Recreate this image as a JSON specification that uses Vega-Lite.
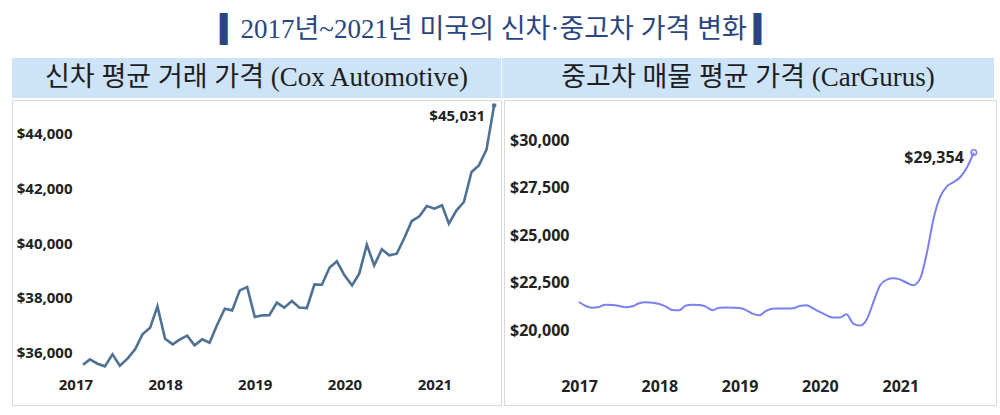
{
  "$schema": "https://vega.github.io/schema/vega-lite/v6.json",
  "padding": {"left": 11, "right": 7, "top": 16, "bottom": 11},
  "background": "white",
  "title": {
    "text": "▍2017년~2021년 미국의 신차·중고차 가격 변화 ▍",
    "font": "Liberation Serif, DejaVu Sans, Noto Sans CJK KR",
    "fontSize": 27,
    "fontWeight": "normal",
    "color": "#2a4680",
    "anchor": "middle",
    "offset": 14,
    "dx": -7
  },
  "config": {"view": {"stroke": null}},
  "datasets": {
    "newcar": [
      {"date": "2017-02-01", "price": 35562},
      {"date": "2017-03-01", "price": 35756},
      {"date": "2017-04-01", "price": 35598},
      {"date": "2017-05-01", "price": 35501},
      {"date": "2017-06-01", "price": 35939},
      {"date": "2017-07-01", "price": 35525},
      {"date": "2017-08-01", "price": 35781},
      {"date": "2017-09-01", "price": 36122},
      {"date": "2017-10-01", "price": 36670},
      {"date": "2017-11-01", "price": 36913},
      {"date": "2017-12-01", "price": 37693},
      {"date": "2018-01-01", "price": 36511},
      {"date": "2018-02-01", "price": 36304},
      {"date": "2018-03-01", "price": 36475},
      {"date": "2018-04-01", "price": 36621},
      {"date": "2018-05-01", "price": 36268},
      {"date": "2018-06-01", "price": 36487},
      {"date": "2018-07-01", "price": 36365},
      {"date": "2018-08-01", "price": 37023},
      {"date": "2018-09-01", "price": 37607},
      {"date": "2018-10-01", "price": 37546},
      {"date": "2018-11-01", "price": 38277},
      {"date": "2018-12-01", "price": 38399},
      {"date": "2019-01-01", "price": 37303},
      {"date": "2019-02-01", "price": 37364},
      {"date": "2019-03-01", "price": 37370},
      {"date": "2019-04-01", "price": 37827},
      {"date": "2019-05-01", "price": 37644},
      {"date": "2019-06-01", "price": 37887},
      {"date": "2019-07-01", "price": 37650},
      {"date": "2019-08-01", "price": 37632},
      {"date": "2019-09-01", "price": 38496},
      {"date": "2019-10-01", "price": 38484},
      {"date": "2019-11-01", "price": 39105},
      {"date": "2019-12-01", "price": 39336},
      {"date": "2020-01-01", "price": 38825},
      {"date": "2020-02-01", "price": 38460},
      {"date": "2020-03-01", "price": 38886},
      {"date": "2020-04-01", "price": 39945},
      {"date": "2020-05-01", "price": 39190},
      {"date": "2020-06-01", "price": 39775},
      {"date": "2020-07-01", "price": 39556},
      {"date": "2020-08-01", "price": 39617},
      {"date": "2020-09-01", "price": 40201},
      {"date": "2020-10-01", "price": 40810},
      {"date": "2020-11-01", "price": 40980},
      {"date": "2020-12-01", "price": 41358},
      {"date": "2021-01-01", "price": 41260},
      {"date": "2021-02-01", "price": 41382},
      {"date": "2021-03-01", "price": 40713},
      {"date": "2021-04-01", "price": 41200},
      {"date": "2021-05-01", "price": 41505},
      {"date": "2021-06-01", "price": 42600},
      {"date": "2021-07-01", "price": 42843},
      {"date": "2021-08-01", "price": 43416},
      {"date": "2021-09-01", "price": 45031}
    ],
    "usedcar": [
      {"date": "2017-01-01", "price": 21491},
      {"date": "2017-02-01", "price": 21280},
      {"date": "2017-03-01", "price": 21193},
      {"date": "2017-04-01", "price": 21228},
      {"date": "2017-05-01", "price": 21351},
      {"date": "2017-06-01", "price": 21333},
      {"date": "2017-07-01", "price": 21280},
      {"date": "2017-08-01", "price": 21210},
      {"date": "2017-09-01", "price": 21263},
      {"date": "2017-10-01", "price": 21421},
      {"date": "2017-11-01", "price": 21473},
      {"date": "2017-12-01", "price": 21456},
      {"date": "2018-01-01", "price": 21386},
      {"date": "2018-02-01", "price": 21245},
      {"date": "2018-03-01", "price": 21070},
      {"date": "2018-04-01", "price": 21052},
      {"date": "2018-05-01", "price": 21298},
      {"date": "2018-06-01", "price": 21351},
      {"date": "2018-07-01", "price": 21333},
      {"date": "2018-08-01", "price": 21245},
      {"date": "2018-09-01", "price": 21052},
      {"date": "2018-10-01", "price": 21193},
      {"date": "2018-11-01", "price": 21195},
      {"date": "2018-12-01", "price": 21190},
      {"date": "2019-01-01", "price": 21175},
      {"date": "2019-02-01", "price": 21052},
      {"date": "2019-03-01", "price": 20877},
      {"date": "2019-04-01", "price": 20789},
      {"date": "2019-05-01", "price": 21017},
      {"date": "2019-06-01", "price": 21140},
      {"date": "2019-07-01", "price": 21142},
      {"date": "2019-08-01", "price": 21145},
      {"date": "2019-09-01", "price": 21158},
      {"date": "2019-10-01", "price": 21280},
      {"date": "2019-11-01", "price": 21316},
      {"date": "2019-12-01", "price": 21158},
      {"date": "2020-01-01", "price": 20965},
      {"date": "2020-02-01", "price": 20789},
      {"date": "2020-03-01", "price": 20667},
      {"date": "2020-04-01", "price": 20670},
      {"date": "2020-05-01", "price": 20842},
      {"date": "2020-06-01", "price": 20351},
      {"date": "2020-07-01", "price": 20246},
      {"date": "2020-08-01", "price": 20561},
      {"date": "2020-09-01", "price": 21491},
      {"date": "2020-10-01", "price": 22368},
      {"date": "2020-11-01", "price": 22666},
      {"date": "2020-12-01", "price": 22736},
      {"date": "2021-01-01", "price": 22666},
      {"date": "2021-02-01", "price": 22491},
      {"date": "2021-03-01", "price": 22368},
      {"date": "2021-04-01", "price": 22719},
      {"date": "2021-05-01", "price": 24034},
      {"date": "2021-06-01", "price": 25876},
      {"date": "2021-07-01", "price": 27016},
      {"date": "2021-08-01", "price": 27577},
      {"date": "2021-09-01", "price": 27805},
      {"date": "2021-10-01", "price": 28068},
      {"date": "2021-11-01", "price": 28595},
      {"date": "2021-12-01", "price": 29354}
    ]
  },
  "spacing": 1,
  "vconcat": [
    {
      "spacing": 1,
      "hconcat": [
        {
          "width": 489,
          "height": 40,
          "view": {"fill": "#cde3f8", "stroke": null},
          "data": {"values": [{"label": "신차 평균 거래 가격 (Cox Automotive)"}]},
          "mark": {"type": "text", "font": "Liberation Serif, Noto Sans CJK KR", "fontSize": 27, "color": "#1e1e1e"},
          "encoding": {"text": {"field": "label"}}
        },
        {
          "width": 492,
          "height": 40,
          "view": {"fill": "#cde3f8", "stroke": null},
          "data": {"values": [{"label": "중고차 매물 평균 가격 (CarGurus)"}]},
          "mark": {"type": "text", "font": "Liberation Serif, Noto Sans CJK KR", "fontSize": 27, "color": "#1e1e1e"},
          "encoding": {"text": {"field": "label"}}
        }
      ]
    },
    {
      "spacing": 1,
      "hconcat": [
        {
          "width": 489,
          "height": 305,
          "view": {"fill": "white", "stroke": "#d9d9d9"},
          "data": {"name": "newcar"},
          "encoding": {
            "x": {
              "field": "date", "type": "temporal",
              "scale": {"type": "utc", "domain": [{"year": 2016, "month": 4, "date": 18, "utc": true}, {"year": 2021, "month": 9, "date": 29, "utc": true}]},
              "axis": {
                "title": null, "orient": "bottom", "offset": -21,
                "values": [{"year": 2017, "utc": true}, {"year": 2018, "utc": true}, {"year": 2019, "utc": true}, {"year": 2020, "utc": true}, {"year": 2021, "utc": true}],
                "format": "%Y", "labelFont": "Open Sans", "labelFontSize": 15, "labelFontWeight": "bold", "labelColor": "#222222",
                "labelBaseline": "middle", "labelPadding": 0, "ticks": false, "tickSize": 0, "domain": false, "grid": false,
                "labelFlush": false, "labelOverlap": false
              }
            },
            "y": {
              "field": "price", "type": "quantitative",
              "scale": {"domain": [34089, 45231], "nice": false, "zero": false},
              "axis": {
                "title": null, "orient": "left", "offset": -60,
                "values": [36000, 38000, 40000, 42000, 44000],
                "format": "$,.0f", "labelFont": "Open Sans", "labelFontSize": 15, "labelFontWeight": "bold", "labelColor": "#222222",
                "labelPadding": 0, "ticks": false, "tickSize": 0, "domain": false, "grid": false, "labelFlush": false, "labelOverlap": false
              }
            }
          },
          "layer": [
            {"mark": {"type": "line", "color": "#4f7194", "strokeWidth": 2.6}},
            {
              "transform": [{"filter": "datum.price == 45031"}],
              "mark": {"type": "point", "filled": true, "color": "#4f7194", "size": 22, "opacity": 1}
            },
            {
              "transform": [{"filter": "datum.price == 45031"}],
              "mark": {"type": "text", "align": "right", "dx": -9, "dy": 11, "font": "Open Sans", "fontWeight": "bold", "fontSize": 15, "color": "#222222"},
              "encoding": {"text": {"field": "price", "type": "quantitative", "format": "$,.0f"}}
            }
          ]
        },
        {
          "width": 492,
          "height": 305,
          "view": {"fill": "white", "stroke": "#d9d9d9"},
          "data": {"name": "usedcar"},
          "encoding": {
            "x": {
              "field": "date", "type": "temporal",
              "scale": {"type": "utc", "domain": [{"year": 2016, "month": 1, "date": 26, "utc": true}, {"year": 2022, "month": 3, "date": 12, "utc": true}]},
              "axis": {
                "title": null, "orient": "bottom", "offset": -19,
                "values": [{"year": 2017, "utc": true}, {"year": 2018, "utc": true}, {"year": 2019, "utc": true}, {"year": 2020, "utc": true}, {"year": 2021, "utc": true}],
                "format": "%Y", "labelFont": "Open Sans", "labelFontSize": 16, "labelFontWeight": "bold", "labelColor": "#222222",
                "labelBaseline": "middle", "labelPadding": 0, "ticks": false, "tickSize": 0, "domain": false, "grid": false,
                "labelFlush": false, "labelOverlap": false
              }
            },
            "y": {
              "field": "price", "type": "quantitative",
              "scale": {"domain": [16068, 32121], "nice": false, "zero": false},
              "axis": {
                "title": null, "orient": "left", "offset": -65,
                "values": [20000, 22500, 25000, 27500, 30000],
                "format": "$,.0f", "labelFont": "Open Sans", "labelFontSize": 16, "labelFontWeight": "bold", "labelColor": "#222222",
                "labelPadding": 0, "ticks": false, "tickSize": 0, "domain": false, "grid": false, "labelFlush": false, "labelOverlap": false
              }
            }
          },
          "layer": [
            {"mark": {"type": "line", "color": "#7b80ee", "strokeWidth": 2, "interpolate": "monotone"}},
            {
              "transform": [{"filter": "datum.price == 29354"}],
              "mark": {"type": "point", "filled": false, "color": "#7b80ee", "size": 30, "strokeWidth": 1.5, "opacity": 1}
            },
            {
              "transform": [{"filter": "datum.price == 29354"}],
              "mark": {"type": "text", "align": "right", "dx": -10, "dy": 5, "font": "Open Sans", "fontWeight": "bold", "fontSize": 16, "color": "#222222"},
              "encoding": {"text": {"field": "price", "type": "quantitative", "format": "$,.0f"}}
            }
          ]
        }
      ]
    }
  ]
}
